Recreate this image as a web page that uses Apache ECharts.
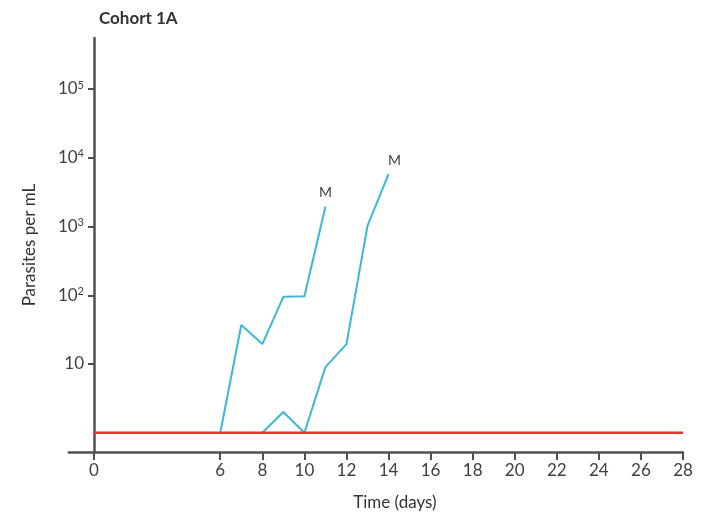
<!DOCTYPE html>
<html><head><meta charset="utf-8">
<script src="https://cdn.jsdelivr.net/npm/echarts@6/dist/echarts.min.js"></script>
<style>html,body{margin:0;padding:0;background:#fff}#c{width:704px;height:517px}</style>
</head><body><div id="c"></div>
<script>
const chartTitle = 'Cohort 1A';
const xTicks = [0, 6, 8, 10, 12, 14, 16, 18, 20, 22, 24, 26, 28];
const yTicks = [10, 100, 1000, 10000, 100000];
const days1 = [6, 7, 8, 9, 10, 11];
const parasites1 = [1, 37, 19.5, 95, 97, 1940];
const days2 = [8, 9, 10, 11, 12, 13, 14];
const parasites2 = [1, 2, 1, 9, 19.5, 1020, 5800];
const limitDays = [0, 28];
const limitValues = [1, 1];
const endLabel = 'M';

const FONT = 'Lato';
const AX = '#505050';
const TXT = '#404040';
const CYAN = '#3db8d3';

function buildData(xs, ys, offsetX) {
  return xs.map((x, i) => {
    const item = { value: [x, ys[i]] };
    if (i === xs.length - 1) {
      item.label = { show: true, formatter: endLabel, position: 'top', distance: 7, offset: [offsetX, 0] };
    }
    return item;
  });
}

const chart = echarts.init(document.getElementById('c'), null, { renderer: 'canvas' });
chart.setOption({
  animation: false,
  backgroundColor: '#fff',
  textStyle: { fontFamily: FONT },
  title: {
    text: chartTitle, left: 94, top: 5,
    textStyle: { fontFamily: FONT, fontSize: 17, fontWeight: 'bold', color: '#333' }
  },
  grid: { left: 68.8, right: 21, top: 38, bottom: 65, containLabel: false, outerBoundsMode: 'none' },
  xAxis: {
    type: 'value', min: -1.2, max: 28,
    axisLine: { show: true, onZero: false, lineStyle: { color: AX, width: 2.5 } },
    axisTick: { show: true, customValues: xTicks, length: 8, lineStyle: { color: AX, width: 2 } },
    axisLabel: { customValues: xTicks, margin: 10, fontSize: 17, color: TXT, fontFamily: FONT },
    splitLine: { show: false },
    name: 'Time (days)', nameLocation: 'middle', nameGap: 42,
    nameTextStyle: { fontSize: 17, color: '#333', fontFamily: FONT, padding: [0, 0, 0, 38] }
  },
  yAxis: {
    type: 'log', logBase: 10, min: 0.525, max: 552000, offset: -25.2,
    axisLine: { show: true, onZero: false, lineStyle: { color: AX, width: 2.5 } },
    axisTick: { show: true, customValues: yTicks, length: 6, lineStyle: { color: AX, width: 2 } },
    axisLabel: {
      customValues: yTicks, margin: 10, fontSize: 17, color: TXT, fontFamily: FONT,
      formatter: v => {
        const e = Math.round(Math.log10(v));
        return e === 1 ? '10' : '10{sup|' + e + '}';
      },
      rich: { sup: { fontSize: 11, color: TXT, fontFamily: FONT, verticalAlign: 'top', padding: [0, 0, 8, 0] } }
    },
    splitLine: { show: false },
    name: 'Parasites per mL', nameLocation: 'middle', nameGap: 56, nameRotate: 90,
    nameTextStyle: { fontSize: 17, color: '#333', fontFamily: FONT }
  },
  series: [
    {
      type: 'line', silent: true, data: buildData(days1, parasites1, 0),
      symbol: 'circle', symbolSize: 0, showSymbol: true,
      lineStyle: { color: CYAN, width: 2 }, itemStyle: { color: CYAN },
      label: { show: false, color: '#404040', fontSize: 14, fontFamily: FONT }
    },
    {
      type: 'line', silent: true, data: buildData(days2, parasites2, 6),
      symbol: 'circle', symbolSize: 0, showSymbol: true,
      lineStyle: { color: CYAN, width: 2 }, itemStyle: { color: CYAN },
      label: { show: false, color: '#404040', fontSize: 14, fontFamily: FONT }
    },
    {
      type: 'line', silent: true, z: 3,
      data: limitDays.map((d, i) => [d, limitValues[i]]),
      symbol: 'none', lineStyle: { color: '#e8352d', width: 2.5 }
    }
  ]
});
</script>
</body></html>
